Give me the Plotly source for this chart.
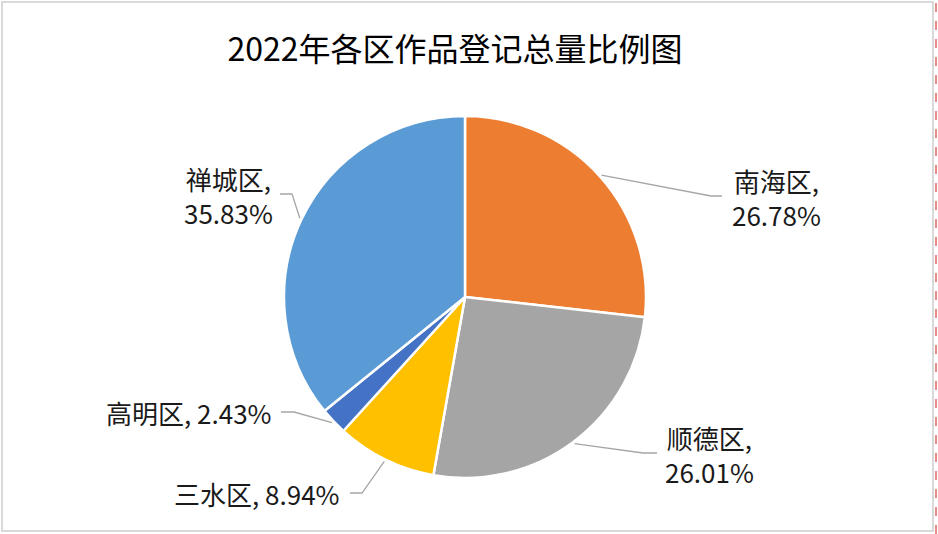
import numpy as np
import plotly.graph_objects as go

# data
districts = ["南海区", "顺德区", "三水区", "高明区", "禅城区"]
shares = [26.78, 26.01, 8.94, 2.43, 35.83]
colors = ["#ED7D31", "#A5A5A5", "#FFC000", "#4472C4", "#5B9BD5"]

W, H = 938, 534
cx, cy, r = 465, 297, 181   # pie centre / radius in pixels

# label placement (pixels): text centre, anchor, elbow, line end
label_pos = {
    "南海区": dict(x=776, y=197, xanchor="center", br=True, elbow=(711, 196), end=(722, 196)),
    "顺德区": dict(x=709, y=454, xanchor="center", br=True, elbow=(643, 453), end=(657, 453)),
    "三水区": dict(x=342, y=493, xanchor="right", br=False, elbow=(362, 493), end=(350, 493)),
    "高明区": dict(x=274, y=412, xanchor="right", br=False, elbow=(294, 412), end=(281, 412)),
    "禅城区": dict(x=228, y=195, xanchor="center", br=True, elbow=(292, 194), end=(280, 194)),
}

def px(x, y):
    return x / W, 1 - y / H

fig = go.Figure(go.Pie(
    labels=districts,
    values=shares,
    sort=False,
    direction="clockwise",
    rotation=0,
    marker=dict(colors=colors, line=dict(color="white", width=2.5)),
    textinfo="none",
    hoverinfo="label+percent",
    domain=dict(x=[(cx - r) / W, (cx + r) / W], y=[1 - (cy + r) / H, 1 - (cy - r) / H]),
    showlegend=False,
))

total = sum(shares)
cum = np.cumsum([0] + shares)
annotations = []
shapes = []
for i, name in enumerate(districts):
    mid = (cum[i] + shares[i] / 2) / total * 2 * np.pi
    sx = cx + (r + 2) * np.sin(mid)
    sy = cy - (r + 2) * np.cos(mid)
    p = label_pos[name]
    sep = "<br>" if p["br"] else " "
    annotations.append(dict(
        x=px(p["x"], p["y"])[0], y=px(p["x"], p["y"])[1], xref="paper", yref="paper",
        text=f"{name},{sep}{shares[i]:.2f}%", showarrow=False,
        xanchor=p["xanchor"], yanchor="middle", align="center",
        font=dict(family="Noto Sans CJK SC", size=26, color="#1a1a1a"),
    ))
    x0, y0 = px(sx, sy)
    x1, y1 = px(*p["elbow"])
    x2, y2 = px(*p["end"])
    shapes.append(dict(
        type="path", xref="paper", yref="paper",
        path=f"M {x0} {y0} L {x1} {y1} L {x2} {y2}",
        line=dict(color="#A6A6A6", width=1.3),
    ))

# chart frame and page edge marker
shapes.append(dict(type="rect", xref="paper", yref="paper",
                   x0=2 / W, x1=933 / W, y0=1 - 531 / H, y1=1 - 2 / H,
                   line=dict(color="#D9D9D9", width=2)))
shapes.append(dict(type="line", xref="paper", yref="paper",
                   x0=936 / W, x1=936 / W, y0=0, y1=1,
                   line=dict(color="#E06666", width=1.5, dash="dash")))

fig.update_layout(
    width=W, height=H,
    margin=dict(l=0, r=0, t=0, b=0),
    paper_bgcolor="white",
    title=dict(text="2022年各区作品登记总量比例图", x=455 / W, xanchor="center",
               y=1 - 50 / H, yanchor="middle",
               font=dict(family="Noto Sans CJK SC", size=32, color="black")),
    annotations=annotations,
    shapes=shapes,
)

fig.write_html("out.html", config={"displayModeBar": False},
               post_script="document.body.style.margin='0';")
